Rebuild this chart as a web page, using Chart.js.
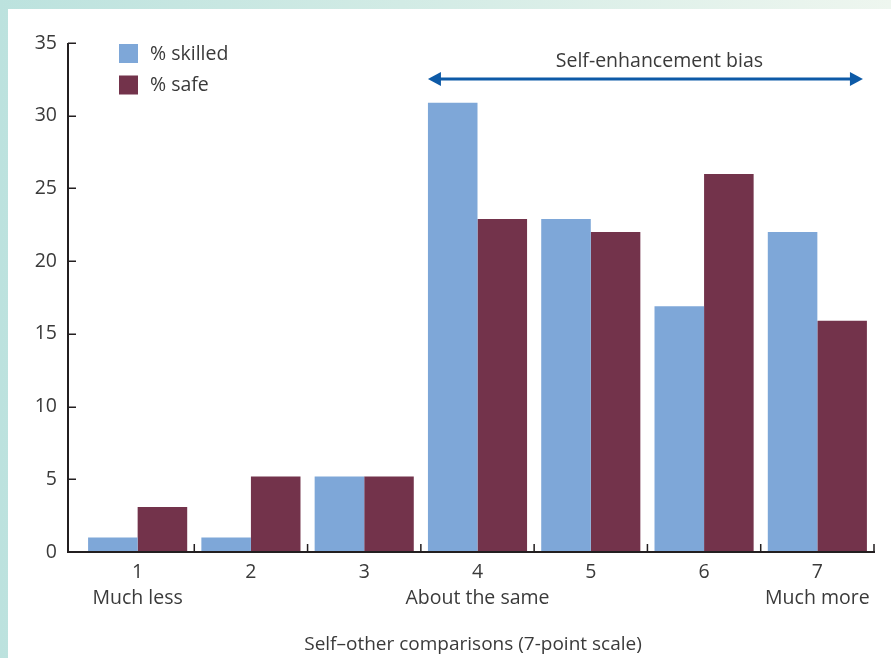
<!DOCTYPE html>
<html>
<head>
<meta charset="utf-8">
<script src="https://cdn.jsdelivr.net/npm/chart.js@4.4.1/dist/chart.umd.min.js"></script>
<style>
  html, body { margin: 0; padding: 0; width: 891px; height: 658px; overflow: hidden; }
  body { position: relative; background: linear-gradient(to right, #bce2de 0%, #d2ebe5 45%, #eef6ef 100%); }
  #panel { position: absolute; left: 8px; top: 9px; right: 0; bottom: 0; background: #ffffff; }
  #c { position: absolute; left: 0; top: 0; }
</style>
</head>
<body>
<div id="panel"></div>
<canvas id="c" width="891" height="658"></canvas>
<script>
// Self-other comparison ratings on a 7-point scale
const categories = ['1', '2', '3', '4', '5', '6', '7'];
const anchorLabels = ['Much less', '', '', 'About the same', '', '', 'Much more'];
const skilled = [1, 1, 5.2, 30.9, 22.9, 16.9, 22];
const safe = [3.1, 5.2, 5.2, 22.9, 22, 26, 15.9];
const yTicks = [0, 5, 10, 15, 20, 25, 30, 35];
const seriesNames = ['% skilled', '% safe'];
const seriesColors = ['#7ea7d8', '#73334b'];
const biasLabel = 'Self-enhancement bias';
const biasFrom = 3;   // index of first category under the arrow
const biasTo = 6;     // index of last category under the arrow
const axisTitle = 'Self–other comparisons (7-point scale)';

const FONT = '"Open Sans", "Noto Sans", sans-serif';
const FSIZE = 19.5;
const TEXT = '#3a3a3a';
const INK = '#231f20';
const AXIS_GAP = 13; // y axis line sits left of the first category slot

// axis lines with inward tick marks
const axesPlugin = {
  id: 'axesLines',
  afterDatasetsDraw(chart) {
    const { ctx, scales: { x, y } } = chart;
    const ax = x.left - AXIS_GAP;
    const y0 = y.getPixelForValue(0);
    const yTop = y.getPixelForValue(yTicks[yTicks.length - 1]);
    ctx.save();
    ctx.strokeStyle = INK;
    ctx.lineWidth = 2;
    ctx.beginPath();
    ctx.moveTo(ax, yTop);
    ctx.lineTo(ax, y0);
    ctx.lineTo(x.right + 1, y0);
    ctx.stroke();
    ctx.lineWidth = 1.5;
    ctx.beginPath();
    yTicks.forEach(v => {
      const py = Math.round(y.getPixelForValue(v)) + 0.25;
      if (v === 0) return;
      ctx.moveTo(ax, py);
      ctx.lineTo(ax + 8, py);
    });
    for (let i = 0; i < categories.length; i++) {
      const px = i < categories.length - 1
        ? (x.getPixelForValue(i) + x.getPixelForValue(i + 1)) / 2
        : x.right;
      ctx.moveTo(px, y0);
      ctx.lineTo(px, y0 - 8);
    }
    ctx.stroke();

    // axis title
    ctx.fillStyle = TEXT;
    ctx.font = '19px ' + FONT;
    ctx.textAlign = 'center';
    ctx.textBaseline = 'alphabetic';
    ctx.fillText(axisTitle, (ax + x.right) / 2 + 2, y0 + 98);
    ctx.restore();
  }
};

// legend swatches in the top-left of the plot
const legendPlugin = {
  id: 'cornerLegend',
  afterDraw(chart) {
    const { ctx, chartArea } = chart;
    ctx.save();
    ctx.font = FSIZE + 'px ' + FONT;
    ctx.textBaseline = 'middle';
    ctx.textAlign = 'left';
    chart.data.datasets.forEach((ds, i) => {
      const bx = chartArea.left + 38;
      const by = chartArea.top + 1 + i * 31.5;
      ctx.fillStyle = ds.backgroundColor;
      ctx.fillRect(bx, by, 19, 19);
      ctx.fillStyle = TEXT;
      ctx.fillText(ds.label, bx + 31, by + 10);
    });
    ctx.restore();
  }
};

// double-headed arrow spanning the higher-than-average ratings
const biasPlugin = {
  id: 'biasArrow',
  afterDraw(chart) {
    const { ctx } = chart;
    const m0 = chart.getDatasetMeta(0);
    const m1 = chart.getDatasetMeta(1);
    const b0 = m0.data[biasFrom];
    const b1 = m1.data[biasTo];
    const x1 = b0.x - b0.width / 2;
    const x2 = b1.x + b1.width / 2 - 4;
    const ay = chart.chartArea.top + 36;
    ctx.save();
    ctx.strokeStyle = '#0d5aa7';
    ctx.fillStyle = '#0d5aa7';
    ctx.lineWidth = 3;
    ctx.beginPath();
    ctx.moveTo(x1 + 10, ay);
    ctx.lineTo(x2 - 10, ay);
    ctx.stroke();
    ctx.beginPath();
    ctx.moveTo(x1, ay);
    ctx.lineTo(x1 + 13, ay - 7);
    ctx.lineTo(x1 + 13, ay + 7);
    ctx.closePath();
    ctx.fill();
    ctx.beginPath();
    ctx.moveTo(x2, ay);
    ctx.lineTo(x2 - 13, ay - 7);
    ctx.lineTo(x2 - 13, ay + 7);
    ctx.closePath();
    ctx.fill();
    ctx.fillStyle = TEXT;
    ctx.font = FSIZE + 'px ' + FONT;
    ctx.textAlign = 'center';
    ctx.textBaseline = 'alphabetic';
    ctx.fillText(biasLabel, (x1 + x2) / 2 + 14, ay - 12);
    ctx.restore();
  }
};

new Chart(document.getElementById('c'), {
  type: 'bar',
  data: {
    labels: categories.map((c, i) => [c, anchorLabels[i]]),
    datasets: [
      { label: seriesNames[0], data: skilled, backgroundColor: seriesColors[0] },
      { label: seriesNames[1], data: safe, backgroundColor: seriesColors[1] }
    ]
  },
  options: {
    responsive: false,
    animation: false,
    devicePixelRatio: 1,
    layout: { padding: { left: 0, top: 43, right: 17, bottom: 0 } },
    datasets: { bar: { categoryPercentage: 0.875, barPercentage: 1, borderWidth: 0 } },
    plugins: { legend: { display: false }, tooltip: { enabled: false } },
    scales: {
      x: {
        offset: true,
        grid: { display: false, drawTicks: false, offset: true },
        border: { display: false },
        ticks: {
          autoSkip: false, maxRotation: 0, padding: 8,
          color: TEXT, font: { family: FONT, size: FSIZE, lineHeight: 1.3 }
        },
        afterFit(scale) { scale.height = 106; }
      },
      y: {
        min: 0, max: 35,
        afterBuildTicks(scale) { scale.ticks = yTicks.map(v => ({ value: v })); },
        grid: { display: false, drawTicks: false },
        border: { display: false },
        ticks: { padding: 24, color: TEXT, font: { family: FONT, size: FSIZE } },
        afterFit(scale) { scale.width = 81; }
      }
    }
  },
  plugins: [axesPlugin, legendPlugin, biasPlugin]
});
</script>
</body>
</html>
